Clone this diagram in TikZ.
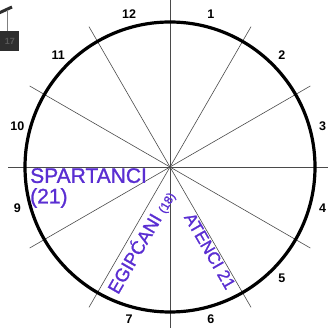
\documentclass[tikz,border=0pt]{standalone}
\usepackage{fontspec}
\setmainfont{Liberation Sans}
\newfontfamily\handfont[FakeBold=1.2]{Liberation Sans}
\usepackage{tikz}
\definecolor{inkpen}{HTML}{5A2ED2}
\definecolor{rayline}{HTML}{4A4A4A}
\definecolor{signdark}{HTML}{2E2E2E}

\begin{document}
\begin{tikzpicture}[x=1pt, y=1pt,
    num/.style={font=\fontsize{12.5}{12.5}\selectfont\bfseries},
    hand/.style={text=inkpen, inner sep=0pt},
    ray/.style={rayline, line width=0.6pt}]
    \useasboundingbox (-170,-161) rectangle (158,167);
    \coordinate (o) at (0,0);

    % Bout d'image dans le coin
    \draw[signdark, line width=3pt] (-171,154) -- (-158,160);
    \draw[gray, line width=0.5pt] (-163,157) -- (-163,136);
    \fill[signdark] (-171,136) rectangle (-151,116);
    \node[text=gray!70!black, font=\fontsize{9}{9}\selectfont\bfseries] (signtxt) at (-160,126) {17};

    % Rayons (diametres)
    \foreach \a in {30,60,120,150}
        \draw[ray] (\a:162) -- (\a+180:162);
    \draw[ray] (90:170) -- (270:170);
    \draw[ray] (0:160) -- (180:162);

    % Cercle
    \draw[line width=3.2pt] (o) circle (145);

    % Numeros
    \foreach \k in {1,2,3,4,5,6,7,9,10,11,12}
        \node[num] (n\k) at ({105-30*\k}:158) {\k};

    % Texte manuscrit
    \node[hand, font=\handfont\fontsize{21}{21}\selectfont, anchor=north west] (sparta) at (-140,-1) {SPARTANCI};
    \node[hand, font=\handfont\fontsize{21}{21}\selectfont, anchor=north west] (spartab) at (-140,-21) {(21)};
    \node[hand, font=\handfont\fontsize{18.5}{18.5}\selectfont, rotate=60] (egipat) at (-29,-75) {EGIPĆANI {\fontsize{12}{12}\selectfont(18)}};
    \node[hand, font=\handfont\fontsize{17}{17}\selectfont, rotate=-60] (atena) at (40,-84) {ATENCI 21};
\end{tikzpicture}
\end{document}
